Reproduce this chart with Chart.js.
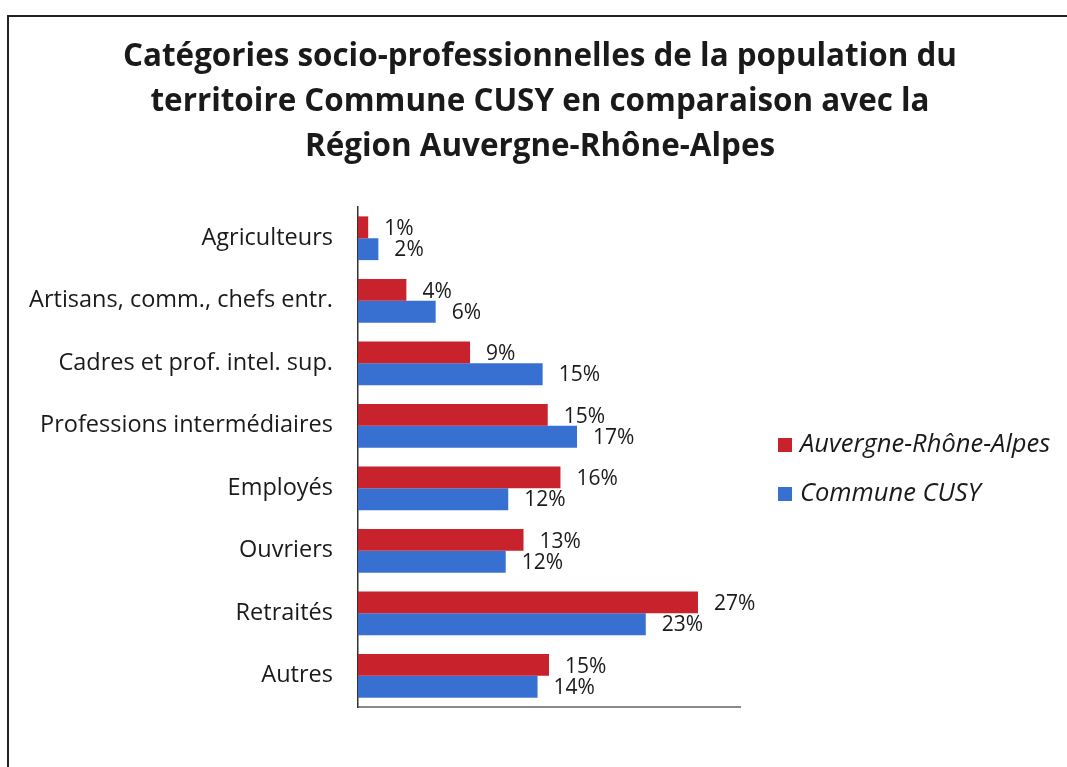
<!DOCTYPE html>
<html>
<head>
<meta charset="utf-8">
<script src="https://cdn.jsdelivr.net/npm/chart.js@4/dist/chart.umd.min.js"></script>
<style>
html,body{margin:0;padding:0;background:#fff;}
#wrap{position:relative;width:1067px;height:767px;}
canvas{display:block;}
</style>
</head>
<body>
<div id="wrap"><canvas id="c" width="1067" height="767"></canvas></div>
<script>
const titleLines = [
  "Catégories socio-professionnelles de la population du",
  "territoire Commune CUSY en comparaison avec la",
  "Région Auvergne-Rhône-Alpes"
];
const categories = [
  "Agriculteurs",
  "Artisans, comm., chefs entr.",
  "Cadres et prof. intel. sup.",
  "Professions intermédiaires",
  "Employés",
  "Ouvriers",
  "Retraités",
  "Autres"
];
const seriesNames = ["Auvergne-Rhône-Alpes", "Commune CUSY"];
const regionValues = [0.8, 3.8, 8.8, 14.9, 15.9, 13.0, 26.7, 15.0];
const cusyValues   = [1.6, 6.1, 14.5, 17.2, 11.8, 11.6, 22.6, 14.1];
const seriesColors = ["#c8222c", "#3870d1"];

const FONT = "'Open Sans', Lato, sans-serif";
const TXT = "#1a1a1a";

const framePlugin = {
  id: 'frame',
  beforeDraw(chart) {
    const ctx = chart.ctx;
    ctx.save();
    ctx.fillStyle = '#fff';
    ctx.fillRect(0, 0, chart.width, chart.height);
    ctx.strokeStyle = '#222';
    ctx.lineWidth = 2;
    ctx.strokeRect(8, 16, 1080, 752);
    ctx.restore();
  }
};

const titlePlugin = {
  id: 'customTitle',
  afterDraw(chart) {
    const ctx = chart.ctx;
    ctx.save();
    ctx.font = "bold 30px " + FONT;
    const w = ctx.measureText(titleLines[0]).width;
    const size = Math.min(34, 30 * 834 / w);
    ctx.font = "bold " + size.toFixed(1) + "px " + FONT;
    ctx.fillStyle = TXT;
    ctx.textAlign = 'center';
    ctx.textBaseline = 'middle';
    titleLines.forEach((t, i) => ctx.fillText(t, 540, 57 + i * 45));
    ctx.restore();
  }
};

const legendPlugin = {
  id: 'customLegend',
  afterDraw(chart) {
    const ctx = chart.ctx;
    ctx.save();
    ctx.font = "italic 25.5px " + FONT;
    ctx.textBaseline = 'middle';
    ctx.textAlign = 'left';
    chart.data.datasets.forEach((ds, i) => {
      const cy = 445 + i * 49;
      ctx.fillStyle = ds.backgroundColor;
      ctx.fillRect(778, cy - 7, 14, 14);
      ctx.fillStyle = TXT;
      ctx.fillText(ds.label, 800, cy);
    });
    ctx.restore();
  }
};

const valueLabelPlugin = {
  id: 'valueLabels',
  afterDatasetsDraw(chart) {
    const ctx = chart.ctx;
    ctx.save();
    ctx.font = "21px " + FONT;
    ctx.fillStyle = TXT;
    ctx.textAlign = 'left';
    ctx.textBaseline = 'middle';
    chart.data.datasets.forEach((ds, di) => {
      const meta = chart.getDatasetMeta(di);
      meta.data.forEach((bar, i) => {
        const v = ds.data[i];
        const dy = di === 0 ? 2 : 1;
        ctx.fillText(Math.round(v) + "%", bar.x + 16, bar.y + dy);
      });
    });
    ctx.restore();
  }
};

new Chart(document.getElementById('c'), {
  type: 'bar',
  data: {
    labels: categories,
    datasets: [
      { label: seriesNames[0], data: regionValues, backgroundColor: seriesColors[0] },
      { label: seriesNames[1], data: cusyValues, backgroundColor: seriesColors[1] }
    ]
  },
  options: {
    indexAxis: 'y',
    responsive: false,
    animation: false,
    events: [],
    categoryPercentage: 0.7,
    barPercentage: 1.0,
    layout: { padding: { top: 207, right: 327, bottom: 60, left: 0 } },
    plugins: {
      legend: { display: false },
      title: { display: false },
      tooltip: { enabled: false }
    },
    scales: {
      x: {
        min: 0, max: 30,
        grid: { display: false, drawTicks: false },
        ticks: { display: false },
        border: { display: true, color: '#8a8a8a', width: 2 }
      },
      y: {
        grid: { display: false, drawTicks: false },
        border: { display: true, color: '#333', width: 1.5 },
        ticks: { font: { family: FONT, size: 23.5 }, color: TXT, padding: 25 },
        afterFit(scale) { scale.width = 358; }
      }
    }
  },
  plugins: [framePlugin, titlePlugin, legendPlugin, valueLabelPlugin]
});
</script>
</body>
</html>
